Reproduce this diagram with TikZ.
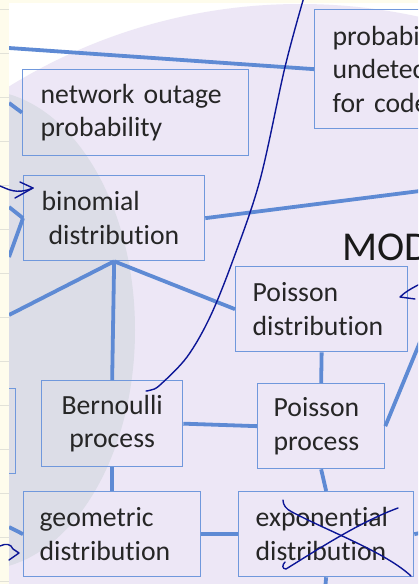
\documentclass[tikz,border=0pt]{standalone}
\usepackage{fontspec}
\setmainfont{Carlito}[Ligatures={NoCommon,NoContextual}]
\definecolor{cream}{RGB}{254,252,236}
\definecolor{ruleline}{RGB}{226,226,216}
\definecolor{lavender}{RGB}{237,231,246}
\definecolor{greyshade}{RGB}{220,221,231}
\definecolor{boxblue}{RGB}{112,152,220}
\definecolor{lineblue}{RGB}{94,138,212}
\definecolor{inkblue}{RGB}{12,22,150}

\begin{document}
\begin{tikzpicture}[x=1pt,y=-1pt]
      \tikzstyle{box}=[rectangle, anchor=north west, draw=boxblue, line width=1.3pt, inner sep=0pt, text=black!85, align=left, font=\fontsize{27.7}{33.5}\selectfont]
      \tikzstyle{connect}=[line width=3.8pt, lineblue]
      \tikzstyle{ink}=[line width=1.4pt, inkblue, line cap=round, line join=round]

      \useasboundingbox (0,0) rectangle (418,584);
      \clip (0,0) rectangle (418,584);

      % slide background
      \fill[white] (9,3) rectangle (418,584);
      \fill[lavender] (300,558) circle (554pt);
      \fill[greyshade] (-20,330) ellipse (155pt and 240pt);

      \node[box, minimum width=226, minimum height=86, text width=190] (outage) at (22,69) {network outage\\probability};
      \node[box, minimum width=170, minimum height=119, text width=134] (undetect) at (314,9) {probabi\\undetec\\for code};
      \node[box, minimum width=181, minimum height=85, text width=145] (binom) at (23,175) {binomial\\\hspace*{7pt}distribution};
      \node[box, minimum width=172, minimum height=85, text width=138] (pdist) at (235,266) {Poisson\\distribution};
      \node[box, minimum width=141, minimum height=86, text width=121, align=center] (bern) at (41,380) {Bernoulli\\process};
      \node[box, minimum width=127, minimum height=85, text width=95] (pproc) at (257,383) {Poisson\\process};
      \node[box, minimum width=177, minimum height=85, text width=145] (geom) at (23,491) {geometric\\distribution};
      \node[box, minimum width=175, minimum height=85, text width=141] (expo) at (238,491) {exponential\\distribution};
      \node[box, minimum width=135, minimum height=85] (leftbox) at (-120,388) {};
      \node[anchor=base west, inner sep=0pt, text=black!90, font=\fontsize{41}{47}\selectfont] (mod) at (342,260) {MOD};

      \coordinate (lt) at (9,48);
      \coordinate (lo) at (9,103);
      \coordinate (lb1) at (9,207);
      \coordinate (lb2) at (9,257);
      \coordinate (lb3) at (9,315);
      \coordinate (rb) at (420,191);
      \coordinate (rp) at (420,342);
      \coordinate (lg) at (9,527);
      \coordinate (re) at (420,533);
      \coordinate (be) at (325,590);

      \path (lt) edge [connect] (undetect.west)
            (lo) edge [connect] (outage.west)
            (lb1) edge [connect] (binom.west)
            (lb2) edge [connect] (binom.west)
            (binom.south) edge [connect] (lb3)
            (binom.south) edge [connect] (bern.north)
            (binom.south) edge [connect] (pdist.west)
            (binom.east) edge [connect] (rb);

      \path (pdist.south) edge [connect] (pproc.north)
            (pproc.east) edge [connect] (rp)
            (bern.east) edge [connect] (pproc.west)
            (bern.south) edge [connect] (geom.north)
            (pproc.south) edge [connect] (expo.north)
            (geom.east) edge [connect] (expo.west)
            (lg) edge [connect] (geom.west)
            (expo.east) edge [connect] (re)
            (expo.south) edge [connect] (be);

      % notebook margin
      \fill[cream] (0,0) rectangle (418,3);
      \fill[cream] (0,0) rectangle (9,584);
      \foreach \y in {9,53,...,581}
        \draw[ruleline, line width=0.8pt] (0,\y) -- (9,\y);

      % pen strokes
      \draw[ink] plot[smooth, tension=0.55] coordinates {(304,-3) (285,67) (260,180) (233,260) (210,317) (187,357) (160,385) (151,390) (146,391)};
      \draw[ink] (0,186) .. controls (8,189) and (16,195) .. (33,188);
      \draw[ink] (20,182) -- (33,188) -- (15,198);
      \draw[ink] (422,283) .. controls (412,288) and (405,292) .. (400,297) -- (415,299);
      \draw[ink] (0,546) .. controls (6,543) and (11,544) .. (13,549) -- (19,553) -- (9,560);
      \draw[ink] (283,500) .. controls (283,505) and (286,509) .. (292,512) .. controls (330,532) and (385,552) .. (411,576);
      \draw[ink] (285,562) .. controls (282,565) and (282,569) .. (286,569) .. controls (320,548) and (360,522) .. (398,508);
\end{tikzpicture}
\end{document}
